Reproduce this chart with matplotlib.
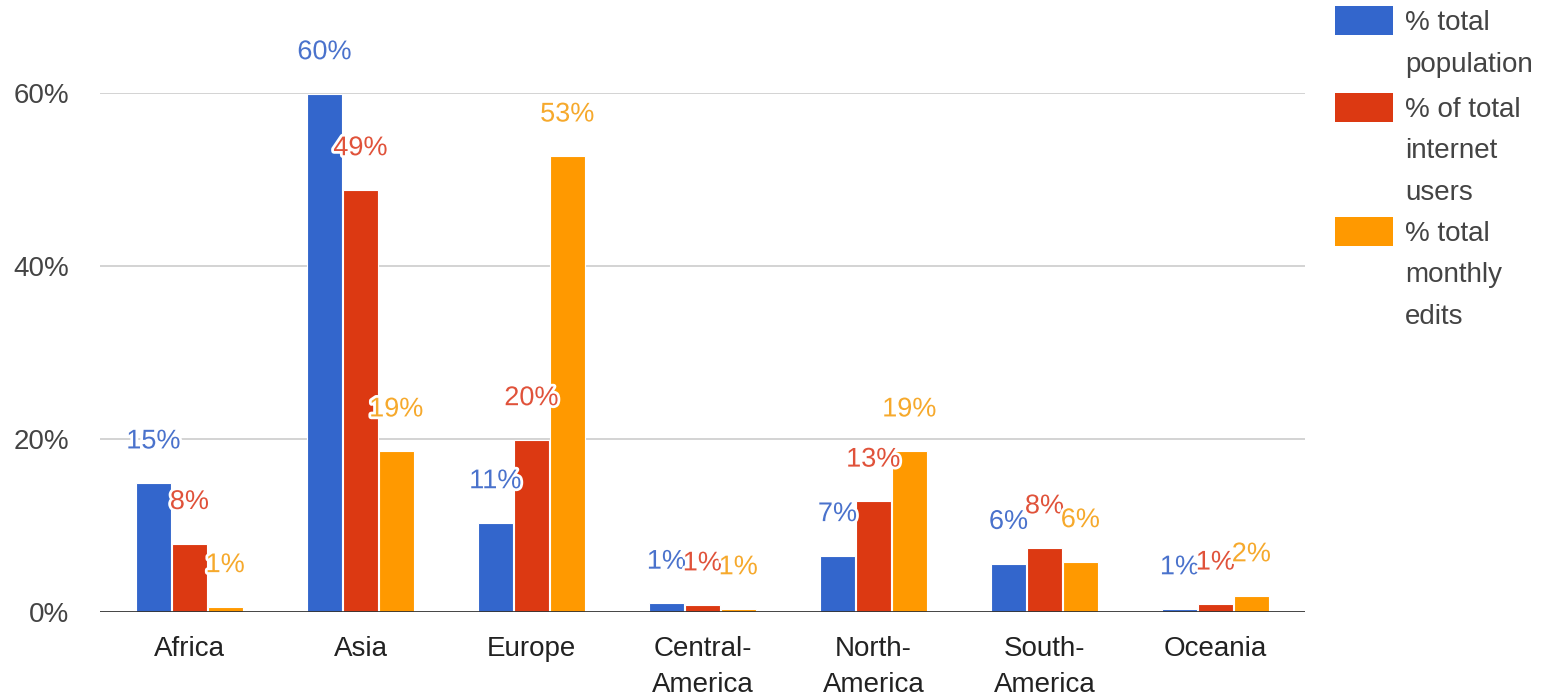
import numpy as np
import matplotlib
matplotlib.use("Agg")
import matplotlib.pyplot as plt
import matplotlib.patheffects as pe
from matplotlib.patches import Rectangle

plt.rcParams["font.family"] = ["Liberation Sans", "DejaVu Sans"]

regions = ["Africa", "Asia", "Europe", "Central-\nAmerica", "North-\nAmerica",
           "South-\nAmerica", "Oceania"]
series_names = ["% total\npopulation", "% of total\ninternet\nusers", "% total\nmonthly\nedits"]

population = [14.9, 59.9, 10.3, 1.0, 6.5, 5.6, 0.35]
internet_users = [7.9, 48.8, 19.9, 0.8, 12.8, 7.4, 0.9]
monthly_edits = [0.6, 18.6, 52.7, 0.35, 18.6, 5.8, 1.85]

bar_colors = ["#3366cc", "#dc3912", "#ff9900"]
label_colors = ["#4a72cc", "#e0523a", "#f6a92c"]
y_ticks = [0, 20, 40, 60]

W, H = 1547, 697
fig = plt.figure(figsize=(W / 100, H / 100), dpi=100)
ax = fig.add_axes([100 / W, 1 - 612 / H, 1205 / W, (612 - 93) / H])

x = np.arange(len(regions))
width = 0.205
offsets = [-0.21, 0.0, 0.21]
all_series = [population, internet_users, monthly_edits]

for vals, off, col, lcol in zip(all_series, offsets, bar_colors, label_colors):
    bars = ax.bar(x + off, vals, width=width, color=col, edgecolor="white",
                  linewidth=0.8, zorder=3)
    for b, v in zip(bars, vals):
        ax.annotate(f"{int(np.ceil(v - 1e-9))}%",
                    xy=(b.get_x() + b.get_width() / 2, v),
                    xytext=(0, 30), textcoords="offset points",
                    ha="center", va="center", fontsize=19.5, color=lcol,
                    zorder=5, annotation_clip=False,
                    path_effects=[pe.withStroke(linewidth=4, foreground="white")])

ax.set_xlim(-0.523, 6.523)
ax.set_ylim(0, 60)
ax.set_yticks(y_ticks)
ax.set_yticklabels([f"{t}%" for t in y_ticks])
ax.set_xticks(x)
ax.set_xticklabels(regions, linespacing=1.5)

for t in y_ticks[1:]:
    ax.axhline(t, color="#cccccc", linewidth=1.2, zorder=1)
ax.axhline(0, color="#333333", linewidth=2, zorder=4)

for s in ax.spines.values():
    s.set_visible(False)
ax.tick_params(axis="y", length=0, pad=22, labelsize=20, labelcolor="#444444")
ax.tick_params(axis="x", length=0, pad=17, labelsize=20, labelcolor="#222222")

# legend drawn in figure pixel space
swatch_tops = [6, 93, 217]
line_step = 41.5
for name, col, top in zip(series_names, bar_colors, swatch_tops):
    fig.patches.append(Rectangle((1335 / W, 1 - (top + 29) / H), 58 / W, 29 / H,
                                 transform=fig.transFigure, facecolor=col,
                                 edgecolor="none"))
    for i, line in enumerate(name.split("\n")):
        yc = top + 14 + i * line_step
        fig.text(1405 / W, 1 - yc / H, line, ha="left", va="center_baseline",
                 fontsize=20, color="#444444")

fig.savefig("out.png", dpi=100, facecolor="white")
